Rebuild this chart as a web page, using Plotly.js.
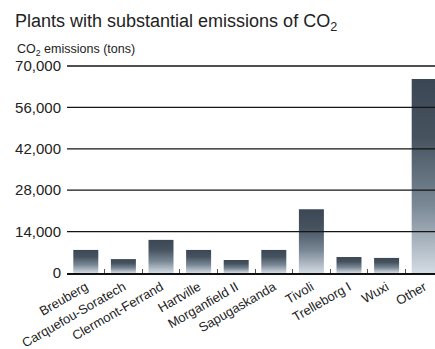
<!DOCTYPE html>
<html>
<head>
<meta charset="utf-8">
<script src="https://cdn.plot.ly/plotly-3.0.1.min.js"></script>
<style>
html,body{margin:0;padding:0;background:#fff;overflow:hidden;}
#chart{width:435px;height:349px;}
</style>
</head>
<body>
<div id="chart"></div>
<script>
const categories = ['Breuberg','Carquefou-Soratech','Clermont-Ferrand','Hartville','Morganfield II','Sapugaskanda','Tivoli','Trelleborg I','Wuxi','Other'];
const emissions = [7800, 4700, 11200, 7800, 4400, 7800, 21600, 5400, 5100, 65600];
const yTickValues = [0, 14000, 28000, 42000, 56000, 70000];
const yTickLabels = ['0', '14,000', '28,000', '42,000', '56,000', '70,000'];
const yMax = 70000;

const FONT = 'Liberation Sans, Arial, sans-serif';
const plotLeft = 67, plotRight = 435, plotTop = 66, plotBottom = 273;
const plotW = plotRight - plotLeft, plotH = plotBottom - plotTop;
const catStep = 37.6;

const trace = {
  type: 'bar',
  x: categories,
  y: emissions,
  marker: {color: '#4a5663', line: {width: 0}},
  hoverinfo: 'none'
};

const gridShapes = yTickValues.filter(v => v > 0).map(v => ({
  type: 'line', xref: 'paper', yref: 'paper',
  x0: 0, x1: 1, y0: v / yMax, y1: v / yMax,
  line: {color: '#151515', width: 1.3},
  layer: 'above'
}));

const layout = {
  width: 435, height: 349,
  margin: {l: plotLeft, r: 435 - plotRight, t: plotTop, b: 349 - plotBottom, pad: 0},
  paper_bgcolor: '#fff', plot_bgcolor: '#fff',
  showlegend: false,
  bargap: 0.335,
  font: {family: FONT, color: '#222', size: 13},
  title: {
    text: 'Plants with substantial emissions of CO<sub>2</sub>',
    font: {family: FONT, size: 18, color: '#222'},
    xref: 'container', yref: 'container',
    x: 15 / 435, xanchor: 'left',
    y: 1 - 21 / 349, yanchor: 'middle'
  },
  xaxis: {
    type: 'category',
    range: [-0.5, -0.5 + plotW / catStep],
    showgrid: false, zeroline: false,
    showline: true, linecolor: '#111', linewidth: 1.5,
    ticks: 'inside', tickson: 'boundaries', ticklen: 4, tickcolor: '#555', tickwidth: 1,
    tickangle: -30,
    tickfont: {family: FONT, size: 13, color: '#222'},
    fixedrange: true
  },
  yaxis: {
    range: [0, yMax],
    tickvals: yTickValues, ticktext: yTickLabels,
    showgrid: false, zeroline: false, showline: false,
    ticks: '', ticklabelstandoff: 5,
    tickfont: {family: FONT, size: 15, color: '#222'},
    fixedrange: true
  },
  shapes: gridShapes,
  annotations: [{
    text: 'CO<sub>2</sub> emissions (tons)',
    xref: 'paper', yref: 'paper',
    x: (15 - plotLeft) / plotW, xanchor: 'left',
    y: 1 + (plotTop - 50) / plotH, yanchor: 'middle',
    showarrow: false,
    font: {family: FONT, size: 12.5, color: '#222'}
  }]
};

Plotly.newPlot('chart', [trace], layout, {displayModeBar: false, staticPlot: true}).then(gd => {
  const svg = gd.querySelector('.main-svg');
  const ns = 'http://www.w3.org/2000/svg';
  let defs = svg.querySelector('defs');
  if (!defs) { defs = document.createElementNS(ns, 'defs'); svg.insertBefore(defs, svg.firstChild); }
  const grad = document.createElementNS(ns, 'linearGradient');
  grad.setAttribute('id', 'barGrad');
  grad.setAttribute('x1', '0'); grad.setAttribute('y1', '0');
  grad.setAttribute('x2', '0'); grad.setAttribute('y2', '1');
  [['0', '#3b4754'], ['0.3', '#46535f'], ['0.65', '#7a8896'], ['1', '#d3dbe3']].forEach(([o, c]) => {
    const s = document.createElementNS(ns, 'stop');
    s.setAttribute('offset', o); s.setAttribute('stop-color', c);
    grad.appendChild(s);
  });
  defs.appendChild(grad);
  gd.querySelectorAll('.barlayer .point path').forEach(p => { p.style.fill = 'url(#barGrad)'; });
});
</script>
</body>
</html>
